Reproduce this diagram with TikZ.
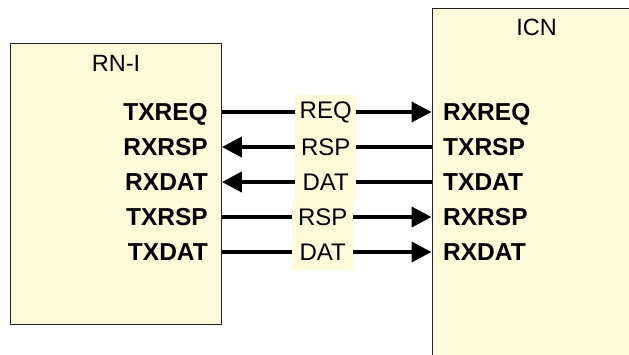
\documentclass[tikz,border=0pt]{standalone}
\usepackage{fontspec}
\setmainfont{Liberation Sans}
\usetikzlibrary{arrows.meta}
\definecolor{blockfill}{HTML}{FFFAD9}
\definecolor{edge}{HTML}{222222}
\begin{document}
\begin{tikzpicture}[x=1pt,y=-1pt,
  block/.style={draw=edge,line width=1.4pt,fill=blockfill,inner sep=0pt,anchor=north west},
  title/.style={font=\fontsize{23.5}{27}\selectfont,inner sep=0pt},
  port/.style={font=\fontsize{24.5}{28}\selectfont\bfseries,inner sep=0pt},
  chan/.style={fill=blockfill,inner sep=0pt,minimum width=61pt,minimum height=35pt,
    font=\fontsize{24}{28}\selectfont},
  sig/.style={line width=4pt,-{Triangle[length=20pt,width=20pt]}},
  sigback/.style={line width=4pt,{Triangle[length=20pt,width=20pt]}-}]
\useasboundingbox (0,0) rectangle (629,354);
\clip (0,0) rectangle (629,354);

% the two blocks
\node[block,minimum width=211pt,minimum height=281pt] (rn) at (9.5,42.5) {};
\node[block,minimum width=240pt,minimum height=380pt] (icn) at (431.5,7.5) {};
\node[title,anchor=base] (rntitle) at (116,71) {RN-I};
\node[title,anchor=base] (icntitle) at (536.5,35.5) {ICN};

% channel rows
\coordinate (r1) at (0,112);
\coordinate (r2) at (0,147);
\coordinate (r3) at (0,182);
\coordinate (r4) at (0,217);
\coordinate (r5) at (0,252);

% RN-I interface ports
\node[port,anchor=base east] (txreq) at (208,120) {TXREQ};
\node[port,anchor=base east] (rxrsp) at (208,155) {RXRSP};
\node[port,anchor=base east] (rxdat) at (208,190) {RXDAT};
\node[port,anchor=base east] (txrsp) at (208,225) {TXRSP};
\node[port,anchor=base east] (txdat) at (208,260) {TXDAT};

% ICN interface ports
\node[port,anchor=base west] (i-rxreq) at (443,120) {RXREQ};
\node[port,anchor=base west] (i-txrsp) at (443,155) {TXRSP};
\node[port,anchor=base west] (i-txdat) at (443,190) {TXDAT};
\node[port,anchor=base west] (i-rxrsp) at (443,225) {RXRSP};
\node[port,anchor=base west] (i-rxdat) at (443,260) {RXDAT};

% channels with their labels
\draw[sig] (rn.east |- r1) -- node[chan,xshift=-1pt] (reqlbl) {REQ} (icn.west |- r1);
\draw[sigback] (rn.east |- r2) -- node[chan,xshift=-1pt] (rsplbl) {RSP} (icn.west |- r2);
\draw[sigback] (rn.east |- r3) -- node[chan,xshift=-1pt] (datlbl) {DAT} (icn.west |- r3);
\draw[sig] (rn.east |- r4) -- node[chan,xshift=-4pt] (rsplbl2) {RSP} (icn.west |- r4);
\draw[sig] (rn.east |- r5) -- node[chan,xshift=-4pt] (datlbl2) {DAT} (icn.west |- r5);
\end{tikzpicture}
\end{document}
